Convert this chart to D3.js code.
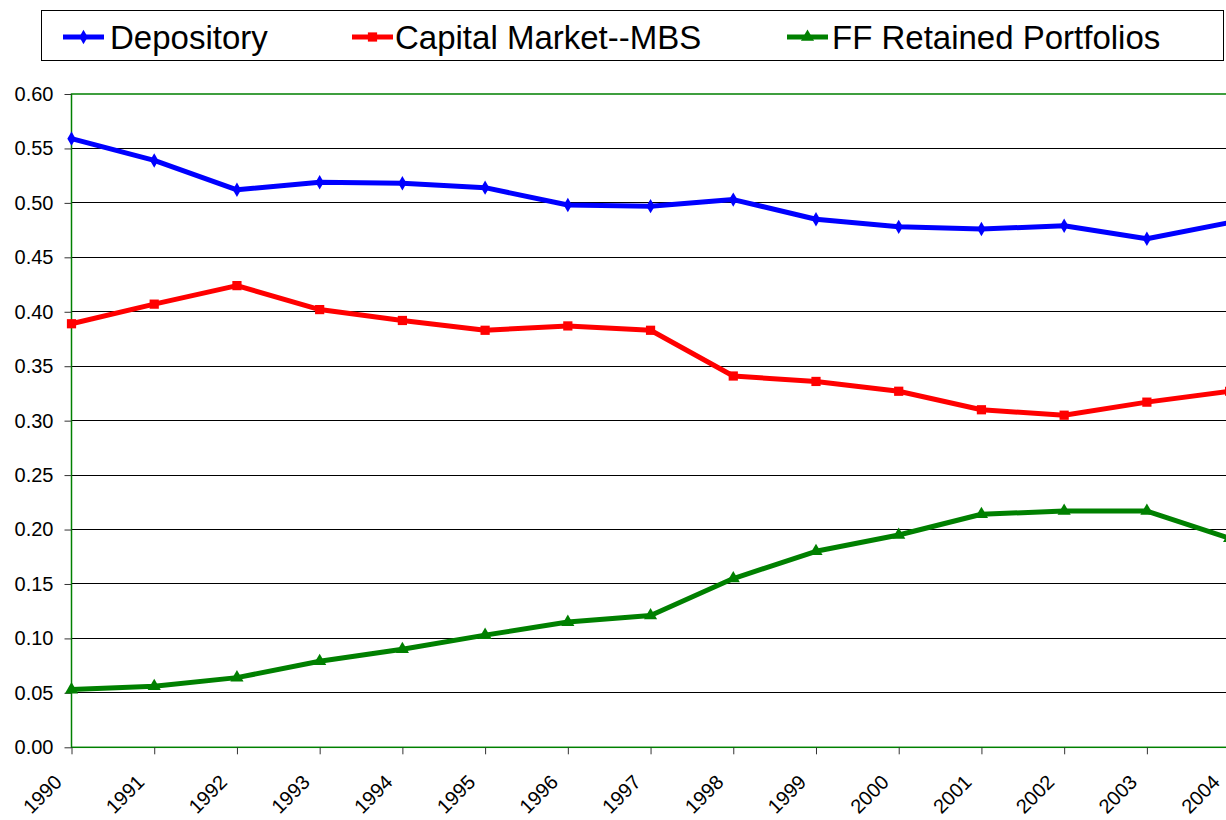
<!DOCTYPE html>
<html><head><meta charset="utf-8">
<script src="https://cdn.jsdelivr.net/npm/d3@7"></script>
<style>body{margin:0;background:#fff;overflow:hidden}svg{display:block}text{font-family:"Liberation Sans",Arial,sans-serif}</style>
</head><body>
<svg id="c" width="1226" height="820"></svg>
<script>
const years = ["1990","1991","1992","1993","1994","1995","1996","1997","1998","1999","2000","2001","2002","2003","2004"];
const depository = [0.559,0.539,0.512,0.519,0.518,0.514,0.498,0.497,0.503,0.485,0.478,0.476,0.479,0.467,0.482];
const capitalMBS = [0.389,0.407,0.424,0.402,0.392,0.383,0.387,0.383,0.341,0.336,0.327,0.310,0.305,0.317,0.327];
const ffRetained = [0.053,0.056,0.064,0.079,0.090,0.103,0.115,0.121,0.155,0.180,0.195,0.214,0.217,0.217,0.192];
const yTicks = [0,0.05,0.10,0.15,0.20,0.25,0.30,0.35,0.40,0.45,0.50,0.55,0.60];
const seriesNames = ["Depository","Capital Market--MBS","FF Retained Portfolios"];

const svg = d3.select("#c");
const L = 71.5, R = 1229.6, T = 94, B = 747.3;
const x = d3.scalePoint().domain(years).range([L, R]);
const y = d3.scaleLinear().domain([0, 0.6]).range([B, T]);

// gridlines
svg.append("g").selectAll("line").data(yTicks.filter(d => d > 0 && d < 0.6)).join("line")
  .attr("x1", L).attr("x2", R).attr("y1", d => y(d)).attr("y2", d => y(d))
  .attr("stroke", "#000").attr("stroke-width", 1).attr("shape-rendering", "crispEdges");
// plot border (green)
svg.append("rect").attr("x", L).attr("y", T).attr("width", R - L).attr("height", B - T)
  .attr("fill", "none").attr("stroke", "#008000").attr("stroke-width", 1.5);

// y axis
const ya = svg.append("g").attr("transform", `translate(${L},0)`)
  .call(d3.axisLeft(y).tickValues(yTicks).tickFormat(d3.format(".2f")).tickSize(7).tickPadding(11));
ya.select(".domain").remove();
ya.selectAll("line").attr("stroke", "#333");
ya.selectAll("text").attr("font-size", 20).attr("fill", "#000").style("font-family", '"Liberation Sans",Arial,sans-serif');

// x axis
const xa = svg.append("g").attr("transform", `translate(0,${B})`)
  .call(d3.axisBottom(x).tickSize(7));
xa.select(".domain").remove();
xa.selectAll("line").attr("stroke", "#333");
xa.selectAll("text").attr("font-size", 20).attr("fill", "#000")
  .style("font-family", '"Liberation Sans",Arial,sans-serif')
  .attr("text-anchor", "end").attr("dy", null).attr("y", 0)
  .attr("transform", "translate(-9,36) rotate(-45)");

const series = [
  {name: seriesNames[0], data: depository, color: "#0000ff", shape: d3.symbolDiamond, size: 60},
  {name: seriesNames[1], data: capitalMBS, color: "#ff0000", shape: d3.symbolSquare, size: 85},
  {name: seriesNames[2], data: ffRetained, color: "#008000", shape: d3.symbolTriangle, size: 75}
];
const line = d3.line().x((d, i) => x(years[i])).y(d => y(d));
series.forEach(s => {
  svg.append("path").datum(s.data).attr("d", line).attr("fill", "none")
    .attr("stroke", s.color).attr("stroke-width", 5).attr("stroke-linejoin", "round");
  svg.append("g").selectAll("path").data(s.data).join("path")
    .attr("transform", (d, i) => `translate(${x(years[i])},${y(d)})`)
    .attr("d", d3.symbol().type(s.shape).size(s.size)).attr("fill", s.color);
});

// legend
svg.append("rect").attr("x", 41.5).attr("y", 10.5).attr("width", 1182).attr("height", 50)
  .attr("fill", "#fff").attr("stroke", "#000").attr("stroke-width", 1);
const legLine = [63, 352, 787];
const legText = [110, 395, 832];
series.forEach((s, i) => {
  const g = svg.append("g").attr("transform", `translate(0,37)`);
  g.append("line").attr("x1", legLine[i]).attr("x2", legLine[i] + 41).attr("stroke", s.color).attr("stroke-width", 5);
  g.append("path").attr("transform", `translate(${legLine[i] + 20.5},0)`).attr("d", d3.symbol().type(s.shape).size(s.size)).attr("fill", s.color);
  g.append("text").attr("x", legText[i]).attr("y", 12).attr("font-size", 33).attr("fill", "#000").text(s.name);
});
</script>
</body></html>
